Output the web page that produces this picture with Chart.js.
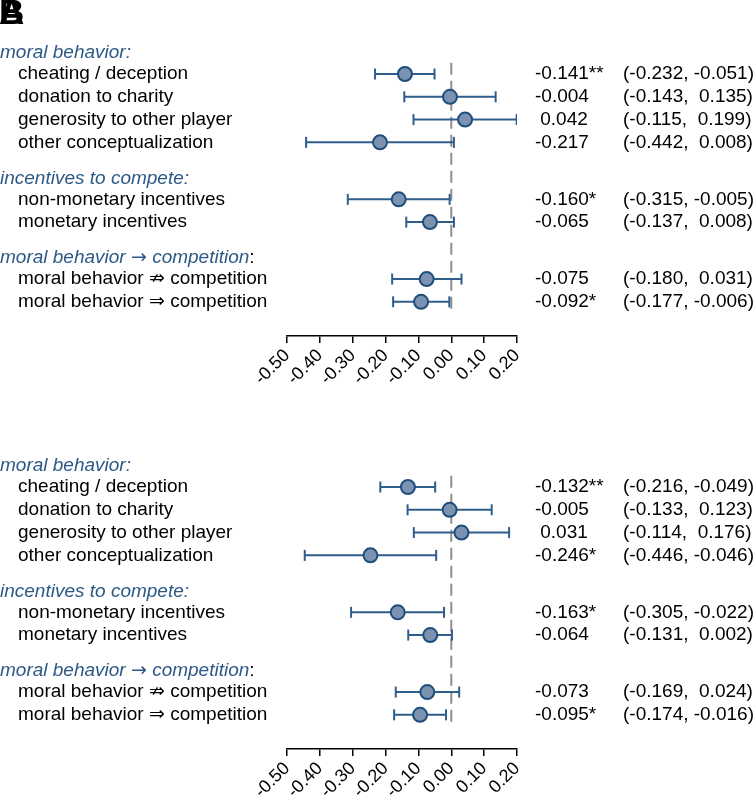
<!DOCTYPE html>
<html lang="en">
<head>
    <meta charset="UTF-8">
    <title>Forest plot</title>
    <script src="https://cdn.jsdelivr.net/npm/chart.js"></script>
    <style>
        body { margin: 0; background: #fff; }
        #wrap { position: relative; width: 753px; height: 795px; overflow: hidden; }
        #chartA { position: absolute; left: 0; top: 0; }
        #chartB { position: absolute; left: 0; top: 413px; }
    </style>
</head>
<body>
    <div id="wrap">
        <canvas id="chartA" width="753" height="413"></canvas>
        <canvas id="chartB" width="753" height="382"></canvas>
    </div>
    <script>
        // categories
        var groupNames = ['moral behavior:', 'incentives to compete:', 'moral behavior \u2192 competition:'];
        var groupSizes = [4, 2, 2];
        var itemNames = [
            'cheating / deception',
            'donation to charity',
            'generosity to other player',
            'other conceptualization',
            'non-monetary incentives',
            'monetary incentives',
            'moral behavior \u21CF competition',
            'moral behavior \u21D2 competition'
        ];

        // panel A
        var estA = [-0.141, -0.004, 0.042, -0.217, -0.160, -0.065, -0.075, -0.092];
        var lowA = [-0.232, -0.143, -0.115, -0.442, -0.315, -0.137, -0.180, -0.177];
        var highA = [-0.051, 0.135, 0.199, 0.008, -0.005, 0.008, 0.031, -0.006];
        var starsA = ['**', '', '', '', '*', '', '', '*'];

        // panel B
        var estB = [-0.132, -0.005, 0.031, -0.246, -0.163, -0.064, -0.073, -0.095];
        var lowB = [-0.216, -0.133, -0.114, -0.446, -0.305, -0.131, -0.169, -0.174];
        var highB = [-0.049, 0.123, 0.176, -0.046, -0.022, 0.002, 0.024, -0.016];
        var starsB = ['**', '', '', '*', '*', '', '', '*'];

        // x axis ticks
        var tickValues = [-0.5, -0.4, -0.3, -0.2, -0.1, 0.0, 0.1, 0.2];

        var FONT = "'Liberation Sans', Arial, sans-serif";
        var BLUE = '#2d5986';
        Chart.defaults.font.family = FONT;

        // row positions: header, rows, then 1.5 gap before next header
        var headerPos = [];
        var rowPos = [];
        var p = -1;
        groupSizes.forEach(function(n) {
            headerPos.push(p + 0.08);
            for (var i = 0; i < n; i++) rowPos.push(p + 1 + i);
            p = p + n + 1.5;
        });

        function fmt(v) {
            return (v < 0 ? '' : ' ') + v.toFixed(3);
        }

        // header text: arrow in DejaVu (longer glyph), trailing colon of the last one upright black
        function drawHeader(ctx, text, x, y, last) {
            var parts = text.split('\u2192');
            var colon = '';
            if (last && text.slice(-1) === ':') {
                colon = ':';
                parts[parts.length - 1] = parts[parts.length - 1].slice(0, -1);
            }
            ctx.fillStyle = BLUE;
            parts.forEach(function(part, k) {
                if (k > 0) {
                    ctx.font = "italic 19px 'DejaVu Sans', sans-serif";
                    ctx.fillText('\u2192', x, y);
                    x += ctx.measureText('\u2192').width;
                }
                ctx.font = 'italic 19px ' + FONT;
                ctx.fillText(part, x, y);
                x += ctx.measureText(part).width;
            });
            if (colon) {
                ctx.font = '19px ' + FONT;
                ctx.fillStyle = '#000';
                ctx.fillText(colon, x, y);
            }
        }

        var textPlugin = {
            id: 'forestText',
            afterDraw: function(chart) {
                var ctx = chart.ctx;
                var y = chart.scales.y;
                var o = chart.options.plugins.forestText;
                ctx.save();
                ctx.textBaseline = 'middle';
                ctx.textAlign = 'left';
                // panel letters (both drawn on top of each other)
                if (o.letters) {
                    ctx.font = 'bold 35px ' + FONT;
                    ctx.fillStyle = '#000';
                    ctx.textBaseline = 'alphabetic';
                    ctx.fillText('A', -1, 24);
                    ctx.fillText('B', -1, 24);
                    ctx.textBaseline = 'middle';
                }
                groupNames.forEach(function(g, i) {
                    drawHeader(ctx, g, 0, y.getPixelForValue(headerPos[i]), i === groupNames.length - 1);
                });
                ctx.font = '19px ' + FONT;
                ctx.fillStyle = '#000';
                itemNames.forEach(function(name, i) {
                    var yy = y.getPixelForValue(rowPos[i]);
                    ctx.fillText(name, 18, yy);
                    ctx.fillText(fmt(o.est[i]) + o.stars[i], 535, yy);
                    ctx.fillText('(' + fmt(o.low[i]) + ', ' + fmt(o.high[i]) + ')', 623, yy);
                });
                ctx.restore();
            }
        };

        function makeChart(id, est, low, high, stars, axisHeight, letters) {
            var datasets = [];
            // estimates (first dataset is drawn on top)
            datasets.push({
                data: est.map(function(v, i) { return { x: v, y: rowPos[i] }; }),
                pointRadius: 7,
                pointBackgroundColor: '#7b93b0',
                pointBorderColor: '#1f4d7c',
                pointBorderWidth: 2,
                showLine: false
            });
            // confidence intervals, one segment each
            est.forEach(function(v, i) {
                datasets.push({
                    data: [{ x: low[i], y: rowPos[i] }, { x: high[i], y: rowPos[i] }],
                    showLine: true,
                    borderColor: '#2f5d8c',
                    borderWidth: 2,
                    pointStyle: 'line',
                    pointRotation: 90,
                    pointRadius: 5.5,
                    pointBorderColor: '#2f5d8c',
                    pointBorderWidth: 2
                });
            });
            // reference line at zero
            datasets.push({
                data: [{ x: 0, y: -0.5 }, { x: 0, y: 10.5 }],
                showLine: true,
                borderColor: '#8f8f8f',
                borderWidth: 2,
                borderDash: [12, 6],
                pointRadius: 0
            });

            return new Chart(document.getElementById(id), {
                type: 'scatter',
                data: { datasets: datasets },
                options: {
                    responsive: false,
                    animation: false,
                    events: [],
                    layout: { padding: { left: 287, right: 236, top: 41, bottom: 0 } },
                    plugins: {
                        legend: { display: false },
                        tooltip: { enabled: false },
                        forestText: { est: est, low: low, high: high, stars: stars, letters: letters }
                    },
                    scales: {
                        x: {
                            type: 'linear',
                            min: -0.5,
                            max: 0.2,
                            afterBuildTicks: function(s) {
                                s.ticks = tickValues.map(function(v) { return { value: v }; });
                            },
                            afterFit: function(s) { s.height = axisHeight; },
                            ticks: {
                                autoSkip: false,
                                minRotation: 45,
                                maxRotation: 45,
                                padding: 2,
                                color: '#000',
                                font: { size: 18 },
                                callback: function(v) { return Number(v).toFixed(2); }
                            },
                            grid: {
                                drawOnChartArea: false,
                                drawTicks: true,
                                tickLength: 7,
                                color: '#000',
                                lineWidth: 1.5
                            },
                            border: { display: true, color: '#000', width: 1.5 }
                        },
                        y: {
                            type: 'linear',
                            display: false,
                            reverse: true,
                            min: -1.45,
                            max: 11.5
                        }
                    }
                },
                plugins: [textPlugin]
            });
        }

        makeChart('chartA', estA, lowA, highA, starsA, 77, true);
        makeChart('chartB', estB, lowB, highB, starsB, 46, false);
    </script>
</body>
</html>
